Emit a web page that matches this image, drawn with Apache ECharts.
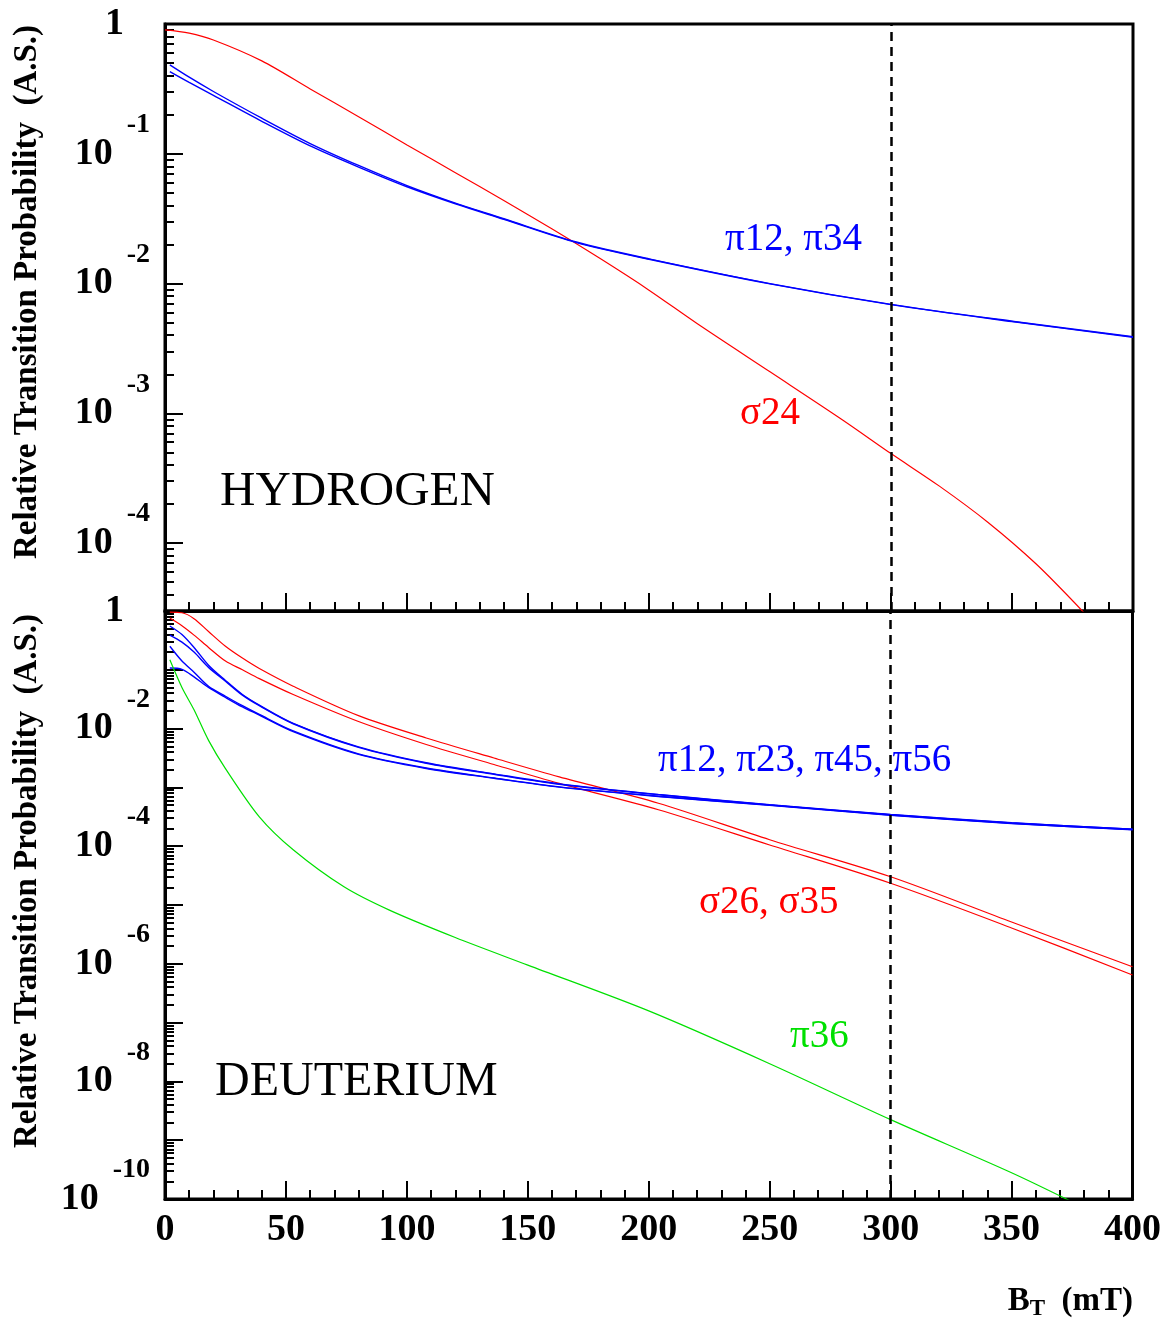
<!doctype html>
<html>
<head>
<meta charset="utf-8">
<title>Relative transition probability</title>
<script src="https://cdn.jsdelivr.net/npm/echarts@6/dist/echarts.min.js"></script>
<style>
html, body { margin: 0; padding: 0; background: #fff; }
#main { width: 1164px; height: 1319px; }
</style>
</head>
<body>
<div id="main"></div>
<script>
// ---- hydrogen panel (B in mT) ----
var bSigma24 = [0, 10, 20, 40, 60, 80, 100, 120, 140, 160, 180, 200, 220, 250, 280, 300, 320, 340, 360, 380, 390];
var sigma24 = [0.90, 0.85, 0.753, 0.52, 0.316, 0.193, 0.117, 0.0715, 0.0437, 0.0263, 0.0155, 0.0089,
    0.0049, 0.00209, 8.9e-4, 4.9e-4, 2.75e-4, 1.45e-4, 6.9e-5, 2.88e-5, 1.78e-5];

var bPiH = [2, 10, 20, 40, 60, 80, 100, 120, 140, 170, 200, 250, 300, 350, 400];
var pi12H = [0.484, 0.389, 0.302, 0.188, 0.120, 0.0813, 0.0569, 0.0417, 0.0316, 0.0209, 0.0155, 0.0100, 0.00692, 0.00513, 0.00389];
var pi34H = [0.430, 0.355, 0.282, 0.178, 0.115, 0.0790, 0.0557, 0.0412, 0.0313, 0.0207, 0.0154, 0.00995, 0.00688, 0.0051, 0.00386];

// ---- deuterium panel ----
var bD = [2, 7, 12, 18, 25, 32, 39, 53, 80, 108, 136, 163, 204, 250, 300, 350, 400];
var sigma26 = [0.955, 0.933, 0.741, 0.447, 0.251, 0.158, 0.105, 0.0525, 0.0166, 0.00692, 0.00316, 0.00151, 5.37e-4, 1.29e-4, 3.02e-5, 5.13e-6, 8.9e-7];
var sigma35 = [0.759, 0.562, 0.389, 0.24, 0.141, 0.100, 0.0708, 0.038, 0.0132, 0.00537, 0.00245, 0.00117, 4.17e-4, 1.05e-4, 2.34e-5, 4.07e-6, 6.46e-7];
var pi12D = [0.556, 0.398, 0.240, 0.120, 0.066, 0.038, 0.0251, 0.0123, 0.0049, 0.00263, 0.0017, 0.00115, 7.6e-4, 5.1e-4, 3.47e-4, 2.51e-4, 1.95e-4];
var pi23D = [0.389, 0.295, 0.200, 0.110, 0.064, 0.037, 0.0245, 0.0121, 0.0048, 0.00258, 0.00167, 0.00113, 7.5e-4, 5.05e-4, 3.44e-4, 2.49e-4, 1.94e-4];
var pi45D = [0.251, 0.141, 0.0912, 0.0525, 0.0355, 0.0245, 0.0174, 0.00912, 0.00372, 0.00214, 0.00145, 0.00102, 7.08e-4, 5.0e-4, 3.39e-4, 2.45e-4, 1.91e-4];
var pi56D = [0.107, 0.102, 0.0759, 0.0501, 0.0339, 0.0234, 0.017, 0.0089, 0.00365, 0.0021, 0.00143, 0.00101, 7.0e-4, 4.95e-4, 3.36e-4, 2.43e-4, 1.9e-4];

var bPi36 = [2, 7, 12, 18, 25, 39, 53, 74, 93, 120, 150, 200, 250, 300, 350, 380];
var pi36 = [0.148, 0.0501, 0.0209, 0.0063, 0.00209, 3.16e-4, 8.7e-5, 2.04e-5, 8.1e-6, 2.8e-6, 9.5e-7, 1.58e-7, 2.0e-8, 2.24e-9, 2.8e-10, 7.1e-11];

// ---- axis ticks ----
var decadesH = [1, 1e-1, 1e-2, 1e-3, 1e-4];
var decadesD = [1, 1e-1, 1e-2, 1e-3, 1e-4, 1e-5, 1e-6, 1e-7, 1e-8, 1e-9, 1e-10];
var labelsD = [1, 1e-2, 1e-4, 1e-6, 1e-8, 1e-10];
var mantissas = [2, 3, 4, 5, 6, 7, 8, 9];
var bMarker = 300;

function minorTicks(decades, lo) {
    var out = [];
    decades.concat([decades[decades.length - 1] / 10]).forEach(function (d) {
        mantissas.forEach(function (m) {
            var v = m * d / 10;
            if (v >= lo && v < 1) out.push(v);
        });
    });
    return out;
}

function zip(xs, ys) {
    return xs.map(function (x, i) { return [x, ys[i]]; });
}

var serif = 'Liberation Serif';
var RED = '#ff0000', BLUE = '#0000ff', GREEN = '#00e000';
var minH = 3e-5, minD = 1e-10;

function powLabel(v) {
    var e = Math.round(Math.log10(v));
    if (Math.abs(Math.log10(v) - e) > 0.01) return '';
    if (e === 0) return '{one|1}';
    return '{b|10}{s|' + e + '}';
}

var labelRich = {
    one: { fontFamily: serif, fontWeight: 'bold', fontSize: 38, color: '#000', padding: [0, 26, 0, 0] },
    b: { fontFamily: serif, fontWeight: 'bold', fontSize: 38, color: '#000', lineHeight: 86, verticalAlign: 'middle' },
    s: { fontFamily: serif, fontWeight: 'bold', fontSize: 28, color: '#000', lineHeight: 28, verticalAlign: 'top', padding: [0, 0, 0, 14] }
};

function majorY(gridIndex, min, ticks, labels) {
    return {
        type: 'log', gridIndex: gridIndex, min: min, max: 1, position: 'left',
        axisLine: { show: true, lineStyle: { color: '#000', width: 3 } },
        axisTick: { show: true, inside: true, length: 18, customValues: ticks, lineStyle: { color: '#000', width: 2 } },
        axisLabel: { show: true, customValues: labels, margin: 15, formatter: powLabel, rich: labelRich },
        splitLine: { show: false }
    };
}
function minorY(gridIndex, min, ticks) {
    return {
        type: 'log', gridIndex: gridIndex, min: min, max: 1, position: 'left',
        axisLine: { show: false },
        axisTick: { show: true, inside: true, length: 9, customValues: ticks, lineStyle: { color: '#000', width: 2 } },
        axisLabel: { show: false },
        splitLine: { show: false }
    };
}
function xAxisFor(gridIndex, labels) {
    return {
        type: 'value', gridIndex: gridIndex, min: 0, max: 400, interval: 50,
        axisLine: { show: true, onZero: false, lineStyle: { color: '#000', width: 3 } },
        axisTick: { show: true, inside: true, length: 18, lineStyle: { color: '#000', width: 2 } },
        minorTick: { show: true, splitNumber: 5, length: 9, lineStyle: { color: '#000', width: 2 } },
        axisLabel: { show: labels, margin: 12, fontFamily: serif, fontWeight: 'bold', fontSize: 38, color: '#000' },
        splitLine: { show: false }
    };
}

function curve(name, xs, ys, color, gridIndex, width, extra) {
    var s = {
        name: name, type: 'line', xAxisIndex: gridIndex, yAxisIndex: gridIndex * 2,
        data: zip(xs, ys), showSymbol: false, smooth: 0.3,
        lineStyle: { color: color, width: width }, itemStyle: { color: color }, z: 3
    };
    if (extra) s.markLine = {
        silent: true, symbol: 'none', label: { show: false },
        lineStyle: { color: '#000', width: 2.5, type: [9, 6] },
        data: [{ xAxis: bMarker }]
    };
    return s;
}

function txt(x, y, text, color, size, weight) {
    return {
        type: 'text', x: x, y: y, z: 10,
        style: { text: text, fill: color, verticalAlign: 'middle', font: (weight || 'normal') + ' ' + size + 'px "' + serif + '"' }
    };
}
function yTitle(y) {
    return {
        type: 'text', x: 27, y: y, rotation: Math.PI / 2, z: 10,
        style: { text: 'Relative Transition Probability  (A.S.)', align: 'center', verticalAlign: 'middle',
            fill: '#000', font: 'bold 33px "' + serif + '"' }
    };
}

var chart = echarts.init(document.getElementById('main'), null, { renderer: 'canvas' });

chart.setOption({
    animation: false,
    backgroundColor: '#fff',
    grid: [
        { left: 165, top: 24, width: 968, height: 587, show: true, borderColor: '#000', borderWidth: 3 },
        { left: 165, top: 611, width: 968, height: 588, show: true, borderColor: '#000', borderWidth: 3 }
    ],
    xAxis: [xAxisFor(0, false), xAxisFor(1, true)],
    yAxis: [
        majorY(0, minH, decadesH, decadesH),
        minorY(0, minH, minorTicks(decadesH, minH)),
        majorY(1, minD, decadesD, labelsD),
        minorY(1, minD, minorTicks(decadesD, minD))
    ],
    series: [
        curve('σ24', bSigma24, sigma24, RED, 0, 1.2, true),
        curve('π12', bPiH, pi12H, BLUE, 0, 1.4),
        curve('π34', bPiH, pi34H, BLUE, 0, 1.4),
        curve('σ26', bD, sigma26, RED, 1, 1.2, true),
        curve('σ35', bD, sigma35, RED, 1, 1.2),
        curve('π12', bD, pi12D, BLUE, 1, 1.4),
        curve('π23', bD, pi23D, BLUE, 1, 1.4),
        curve('π45', bD, pi45D, BLUE, 1, 1.4),
        curve('π56', bD, pi56D, BLUE, 1, 1.4),
        curve('π36', bPi36, pi36, GREEN, 1, 1.2)
    ],
    graphic: [
        txt(220, 492, 'HYDROGEN', '#000', 49),
        txt(215, 1082, 'DEUTERIUM', '#000', 48),
        txt(725, 240, 'π12, π34', BLUE, 39),
        txt(740, 414, 'σ24', RED, 39),
        txt(658, 761, 'π12, π23, π45, π56', BLUE, 39),
        txt(699, 903, 'σ26, σ35', RED, 39),
        txt(790, 1037, 'π36', GREEN, 39),
        yTitle(292),
        yTitle(881),
        {
            type: 'text', right: 31, top: 1282, z: 10,
            style: {
                text: '{b|B}{t|T}{b|  (mT)}',
                rich: {
                    b: { fontFamily: serif, fontWeight: 'bold', fontSize: 33, fill: '#000', color: '#000', lineHeight: 36, verticalAlign: 'top' },
                    t: { fontFamily: serif, fontWeight: 'bold', fontSize: 23, fill: '#000', color: '#000', lineHeight: 26, verticalAlign: 'bottom', padding: [16, 0, 0, 0] }
                }
            }
        }
    ]
});

window.addEventListener('resize', function () {
    chart.resize();
});
</script>
</body>
</html>
